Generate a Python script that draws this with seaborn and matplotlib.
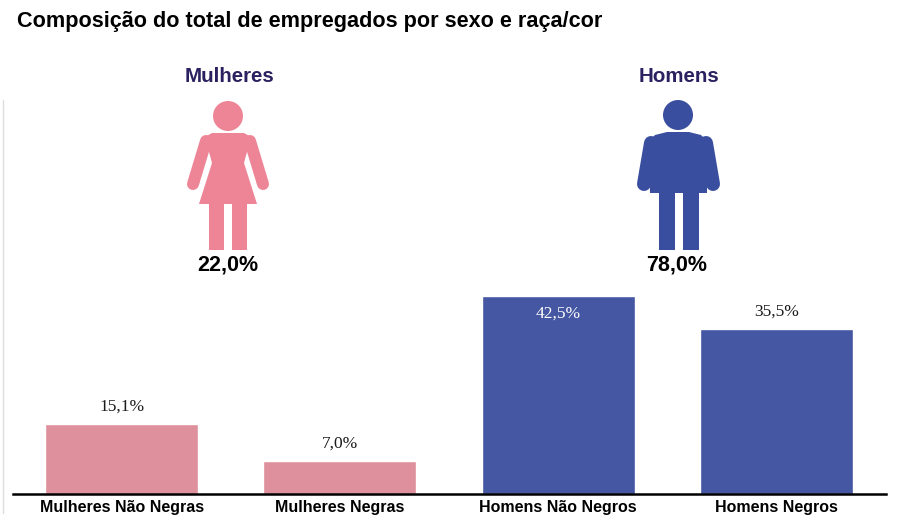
import matplotlib
matplotlib.use("Agg")
import matplotlib.pyplot as plt
import seaborn as sns
import pandas as pd
from matplotlib.patches import Circle, Polygon, Rectangle
from matplotlib.lines import Line2D

categories = ["Mulheres Não Negras", "Mulheres Negras", "Homens Não Negros", "Homens Negros"]
values = [15.1, 7.0, 42.5, 35.5]
value_labels = ["15,1%", "7,0%", "42,5%", "35,5%"]
sex_names = ["Mulheres", "Homens"]
sex_totals = ["22,0%", "78,0%"]
title = "Composição do total de empregados por sexo e raça/cor"

bar_colors = ["#DE909C", "#DE909C", "#4556A2", "#4556A2"]
pink_icon = "#EE8597"
blue_icon = "#3A4E9F"
navy = "#2B2160"

sns.set_theme(style="white")
plt.rcParams['font.family'] = ['Liberation Sans', 'DejaVu Sans']

W, H = 900, 525
fig = plt.figure(figsize=(9, 5.25), dpi=100)

ax_left, ax_right = 12.5 / W, 885.5 / W
ax_bottom = 1 - 494 / H
ax_top = 1 - 96 / H
ax = fig.add_axes([ax_left, ax_bottom, ax_right - ax_left, ax_top - ax_bottom])

df = pd.DataFrame({"cat": categories, "val": values})
sns.barplot(data=df, x="cat", y="val", hue="cat", palette=bar_colors,
            width=0.70, ax=ax, legend=False, saturation=1)
ax.set_xlim(-0.5, 3.5)
ax.set_ylim(0, 85.5)
ax.set_xlabel("")
ax.set_ylabel("")
ax.set_yticks([])
for s in ["top", "right", "left"]:
    ax.spines[s].set_visible(False)
ax.spines["bottom"].set_color("black")
ax.spines["bottom"].set_linewidth(1.8)
ax.tick_params(axis="x", length=0, pad=4)
for lbl in ax.get_xticklabels():
    lbl.set_fontweight("bold")
    lbl.set_fontsize(11.5)
    lbl.set_color("black")

for i, (v, t) in enumerate(zip(values, value_labels)):
    if i == 2:
        ax.text(i, v - 2.0, t, ha="center", va="top", fontsize=12.5,
                family="Liberation Serif", color="white")
    else:
        ax.text(i, v + 2.0, t, ha="center", va="bottom", fontsize=12.5,
                family="Liberation Serif", color="#1a1a1a")

ov = fig.add_axes([0, 0, 1, 1], facecolor="none")
ov.set_xlim(0, W)
ov.set_ylim(H, 0)
ov.axis("off")

fig.text(17 / W, 1 - 22 / H, title, ha="left", va="center", fontsize=15.6,
         fontweight="bold", color="black")

ov.add_line(Line2D([2.5, 2.5], [100, 513], color="#DDDDDD", lw=1))

px = 0.72  # points per pixel

# Woman icon
ov.add_patch(Circle((228, 116), 15, color=pink_icon, lw=0))
ov.add_patch(Polygon([(205, 137), (212, 133), (244, 133), (251, 137), (244, 163),
                      (257, 204), (199, 204), (212, 163)], closed=True,
                     color=pink_icon, lw=0))
for (x0, y0, x1, y1) in [(206, 141, 193, 184), (250, 141, 263, 184)]:
    ov.add_line(Line2D([x0, x1], [y0, y1], color=pink_icon, lw=12 * px,
                       solid_capstyle="round"))
ov.add_patch(Rectangle((209, 203), 15, 47, color=pink_icon, lw=0))
ov.add_patch(Rectangle((232, 203), 15, 47, color=pink_icon, lw=0))

# Man icon
ov.add_patch(Circle((678, 115), 15, color=blue_icon, lw=0))
ov.add_patch(Polygon([(649, 141), (655, 135), (667, 132), (689, 132), (701, 135),
                      (707, 141), (707, 193), (650, 193)], closed=True,
                     color=blue_icon, lw=0))
for (x0, y0, x1, y1) in [(651, 143, 644, 184), (706, 143, 713, 184)]:
    ov.add_line(Line2D([x0, x1], [y0, y1], color=blue_icon, lw=14 * px,
                       solid_capstyle="round"))
ov.add_patch(Rectangle((659, 190), 16, 60, color=blue_icon, lw=0))
ov.add_patch(Rectangle((683, 190), 16, 60, color=blue_icon, lw=0))

for cx, name, tot in zip([230, 679], sex_names, sex_totals):
    ov.text(cx, 76, name, ha="center", va="center", fontsize=14.8,
            fontweight="bold", color=navy)
    ov.text(cx - 2, 265, tot, ha="center", va="center", fontsize=15.5,
            fontweight="bold", color="black")

fig.savefig("out.png", dpi=100)
